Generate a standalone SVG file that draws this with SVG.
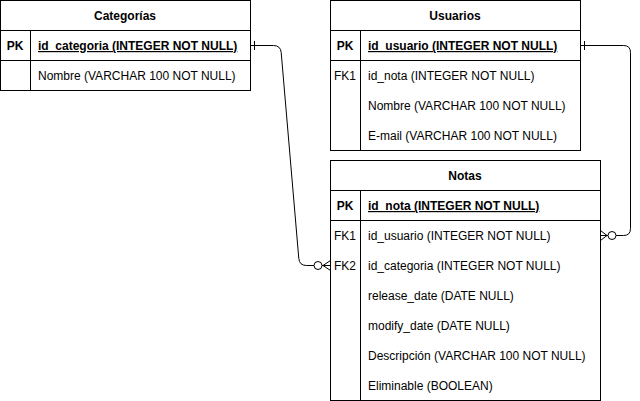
<svg xmlns="http://www.w3.org/2000/svg" width="640" height="401" viewBox="0 0 640 401">
<style>
.box{fill:#fff;stroke:#000;stroke-width:1}
.ln{fill:none;stroke:#000;stroke-width:1}
text{font-family:"Liberation Sans",Arial,sans-serif;font-size:12px;fill:#000}
.t{font-weight:bold;text-anchor:middle}
.k{text-anchor:middle}
.kb{text-anchor:middle;font-weight:bold}
.pk{font-weight:bold;text-decoration:underline}
</style>
<rect width="640" height="401" fill="#fff"/>
<g id="categorias">
<rect class="box" x="0.5" y="0.5" width="250" height="90"/>
<path class="ln" d="M0.5 30.5H250.5M0.5 60.5H250.5M30.5 30.5V90.5"/>
<text class="t" x="125" y="20">Categorías</text>
<text class="kb" x="15" y="50">PK</text>
<text class="pk" x="38" y="50">id_categoria (INTEGER NOT NULL)</text>
<text x="38" y="80">Nombre (VARCHAR 100 NOT NULL)</text>
</g>
<g id="usuarios">
<rect class="box" x="330.5" y="0.5" width="250" height="150"/>
<path class="ln" d="M330.5 30.5H580.5M330.5 60.5H580.5M360.5 30.5V150.5"/>
<text class="t" x="455" y="20">Usuarios</text>
<text class="kb" x="345" y="50">PK</text>
<text class="pk" x="368" y="50">id_usuario (INTEGER NOT NULL)</text>
<text class="k" x="345" y="80">FK1</text>
<text x="368" y="80">id_nota (INTEGER NOT NULL)</text>
<text x="368" y="110">Nombre (VARCHAR 100 NOT NULL)</text>
<text x="368" y="140">E-mail (VARCHAR 100 NOT NULL)</text>
</g>
<g id="notas">
<rect class="box" x="330.5" y="160.5" width="270" height="240"/>
<path class="ln" d="M330.5 190.5H600.5M330.5 220.5H600.5M360.5 190.5V400.5"/>
<text class="t" x="465" y="180">Notas</text>
<text class="kb" x="345" y="210">PK</text>
<text class="pk" x="368" y="210">id_nota (INTEGER NOT NULL)</text>
<text class="k" x="345" y="240">FK1</text>
<text x="368" y="240">id_usuario (INTEGER NOT NULL)</text>
<text class="k" x="345" y="270">FK2</text>
<text x="368" y="270">id_categoria (INTEGER NOT NULL)</text>
<text x="368" y="300">release_date (DATE NULL)</text>
<text x="368" y="330">modify_date (DATE NULL)</text>
<text x="368" y="360">Descripción (VARCHAR 100 NOT NULL)</text>
<text x="368" y="390">Eliminable (BOOLEAN)</text>
</g>
<g id="connectors">
<path class="ln" d="M250.5 45.5H273.5Q280.5 45.5 281.2 52.5L298.8 258.5Q299.5 265.5 306.5 265.5H314"/>
<path class="ln" d="M254.5 41V50"/>
<circle class="ln" cx="318" cy="265.5" r="4"/>
<path class="ln" d="M322 265.5H330.5M330.5 260.5L323 265.5L330.5 270.5"/>
<path class="ln" d="M580.5 45.5H623.5Q630.5 45.5 630.5 52.5V228.5Q630.5 235.5 623.5 235.5H616"/>
<path class="ln" d="M584.5 41V50"/>
<circle class="ln" cx="612" cy="235.5" r="4"/>
<path class="ln" d="M608 235.5H600.5M600.5 230.5L607 235.5L600.5 240.5"/>
</g>
</svg>
